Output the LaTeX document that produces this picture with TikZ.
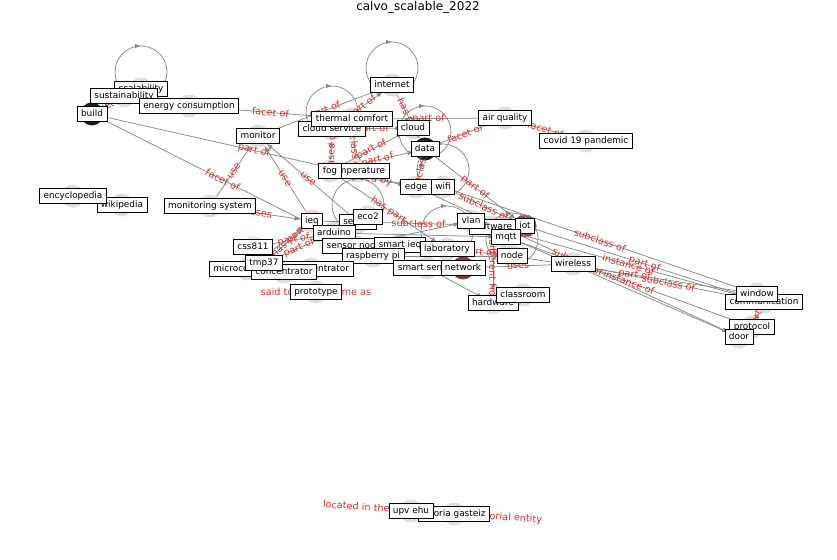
\documentclass[tikz,border=0pt]{standalone}
\usepackage{fontspec}
\setmainfont{DejaVu Sans}
\usetikzlibrary{arrows.meta,decorations.markings}
\definecolor{edgec}{RGB}{138,138,138}
\definecolor{redc}{RGB}{218,45,45}
\definecolor{dotc}{RGB}{222,222,222}
\definecolor{darkdot}{RGB}{28,28,28}
\definecolor{browndot}{RGB}{122,62,56}
\definecolor{brown2}{RGB}{140,78,72}
\definecolor{pinkdot}{RGB}{240,214,220}
\tikzset{
  dot/.style={circle,fill=dotc,draw=none,minimum size=23pt,inner sep=0pt},
  lbl/.style={draw=black,fill=white,line width=0.8pt,inner xsep=4pt,inner ysep=3.4pt,
    font=\fontsize{8.9}{10}\selectfont,text height=6.8pt,text depth=1.9pt},
  conn/.style={draw=edgec,line width=0.75pt,-{Latex[length=6pt,width=4.5pt]}},
  el/.style={text=redc,font=\fontsize{9.7}{11}\selectfont,sloped,inner sep=0pt,midway},
  loopst/.style={draw=edgec,line width=0.75pt,postaction={decorate},
    decoration={markings,mark=at position 0.5 with {\arrow{Latex[length=6pt,width=4.5pt]}}}},
}
\newcommand\myloop[1]{\draw[loopst] (#1) ++(-13,5.5) arc[start angle=120,end angle=420,radius=26];}
\begin{document}
\begin{tikzpicture}[x=1pt,y=-1pt]
\path[fill=white,use as bounding box] (0,0) rectangle (837,559);
\node[font=\fontsize{12}{14}\selectfont] (title) at (418,7) {calvo\_scalable\_2022};

% node circles
\node[dot] (scal) at (141,89) {};
\node[dot] (sust) at (124,96) {};
\node[dot,fill=darkdot] (build) at (92,114) {};
\node[dot] (energy) at (189,106) {};
\node[dot] (monitor) at (258,136) {};
\node[dot] (thermal) at (352,119) {};
\node[dot] (cserv) at (332,129) {};
\node[dot] (internet) at (392,85) {};
\node[dot] (cloud) at (413,128) {};
\node[dot,fill=darkdot] (data) at (425,149) {};
\node[dot] (airq) at (505,118) {};
\node[dot] (covid) at (586,141) {};
\node[dot] (temp) at (357,171) {};
\node[dot] (fog) at (330,171) {};
\node[dot] (edgen) at (416,187) {};
\node[dot] (wifi) at (443,187) {};
\node[dot] (wiki) at (122,205) {};
\node[dot] (ency) at (73,196) {};
\node[dot] (monsys) at (210,206) {};
\node[dot,fill=pinkdot] (ieq) at (312,221) {};
\node[dot] (sensor) at (358,222) {};
\node[dot] (eco) at (368,217) {};
\node[dot] (arduino) at (334,233) {};
\node[dot] (snode) at (354,246) {};
\node[dot] (smieq) at (400,245) {};
\node[dot] (rpi) at (373,256) {};
\node[dot] (lab) at (447,249) {};
\node[dot,fill=pinkdot!60] (css) at (253,247) {};
\node[dot] (micro) at (247,269) {};
\node[dot] (coconc) at (311,269) {};
\node[dot] (conc) at (284,272) {};
\node[dot] (tmp) at (264,263) {};
\node[dot] (proto) at (316,292) {};
\node[dot] (smsens) at (427,268) {};
\node[dot,fill=browndot] (network) at (463,268) {};
\node[dot] (soft) at (493,227) {};
\node[dot] (vlan) at (471,221) {};
\node[dot,fill=brown2] (iot) at (525,226) {};
\node[dot] (mqtt) at (506,237) {};
\node[dot] (nodeN) at (512,256) {};
\node[dot] (wireless) at (573,264) {};
\node[dot,fill=pinkdot!70] (hardware) at (493,303) {};
\node[dot] (classroom) at (523,295) {};
\node[dot] (comm) at (764,302) {};
\node[dot] (window) at (757,294) {};
\node[dot] (protocol) at (752,327) {};
\node[dot] (door) at (739,337) {};
\node[dot] (vitoria) at (454,514) {};
\node[dot] (upv) at (411,511) {};

% self loops
\myloop{scal}
\myloop{internet}
\myloop{cserv}
\myloop{data}
\myloop{wifi}
\myloop{sensor}
\myloop{lab}
\myloop{nodeN}

% connectors
\draw[conn] (sust) -- node[el]{facet of} (build);
\draw[conn] (build) -- node[el]{part of} (edgen);
\draw[conn] (build) -- node[el]{facet of} (snode);
\draw[conn] (energy) -- node[el]{facet of} (thermal);
\draw[conn] (monsys) -- node[el]{use} (monitor);
\draw[conn] (ieq) -- node[el]{use} (monitor);
\draw[conn] (sensor) -- node[el]{use} (monitor);
\draw[conn] (monitor) -- node[el]{part of} (internet);
\draw[conn] (cserv) -- node[el]{part of} (internet);
\draw[conn] (cserv) -- node[el]{part of} (cloud);
\draw[conn] (thermal) -- node[el]{part of} (airq);
\draw[conn] (data) -- node[el]{facet of} (airq);
\draw[conn] (airq) -- node[el]{facet of} (covid);
\draw[conn] (temp) -- node[el]{subclass of} (thermal);
\draw[conn] (fog) -- node[el]{based on} (cserv);
\draw[conn] (fog) -- node[el]{part of} (cloud);
\draw[conn] (fog) -- node[el]{part of} (data);
\draw[conn] (edgen) -- node[el]{subclass of} (data);
\draw[conn] (internet) -- node[el]{has part} (data);
\draw[conn] (data) -- node[el]{part of} (iot);
\draw[conn] (wifi) -- node[el]{subclass of} (iot);
\draw[conn] (wifi) -- node[el]{subclass of} (window);
\draw[conn] (mqtt) -- node[el]{instance of} (protocol);
\draw[conn] (wireless) -- node[el]{subclass of} (comm);
\draw[conn] (nodeN) -- node[el]{part of} (window);
\draw[conn] (soft) -- node[el]{instance of} (comm);
\draw[conn] (iot) -- node[el]{part of} (comm);
\draw[conn] (edgen) -- node[el]{subclass of} (door);
\draw[conn] (vlan) -- (door);
\draw[conn] (network) -- node[el]{uses} (wireless);
\draw[conn] (lab) -- node[el]{part of} (nodeN);
\draw[conn] (soft) -- node[el,pos=0.65]{different from} (hardware);
\draw[conn] (css) -- node[el]{part of} (arduino);
\draw[conn] (tmp) -- node[el]{part of} (arduino);
\draw[conn] (monsys) -- node[el]{uses} (ieq);
\draw[conn] (tmp) -- node[el]{has part} (ieq);
\draw[conn] (micro) -- (ieq);
\draw[conn] (ieq) -- node[el]{subclass of} (iot);
\draw[conn] (fog) -- node[el]{has part} (lab);
\draw[conn] (fog) -- node[el]{used by} (edgen);
\draw[conn] (arduino) -- (mqtt);
\draw[conn] (rpi) -- (nodeN);
\draw[conn] (snode) -- (vlan);
\draw[conn] (smsens) -- (hardware);
\draw[conn] (protocol) -- node[el]{part of} (comm);
\draw[conn] (wiki) -- (ency);
\draw[conn] (upv) -- node[el]{located in the administrative territorial entity} (vitoria);
\node[text=redc,font=\fontsize{9.7}{11}\selectfont,inner sep=0pt] (sameas) at (proto) {said to be the same as};

% labels
\node[lbl] at (scal) {scalability};
\node[lbl] at (sust) {sustainability};
\node[lbl] at (energy) {energy consumption};
\node[lbl] at (build) {build};
\node[lbl] at (monitor) {monitor};
\node[lbl] at (cserv) {cloud service};
\node[lbl] at (thermal) {thermal comfort};
\node[lbl] at (internet) {internet};
\node[lbl] at (cloud) {cloud};
\node[lbl] at (data) {data};
\node[lbl] at (airq) {air quality};
\node[lbl] at (covid) {covid 19 pandemic};
\node[lbl] at (temp) {temperature};
\node[lbl] at (fog) {fog};
\node[lbl] at (edgen) {edge};
\node[lbl] at (wifi) {wifi};
\node[lbl] at (wiki) {wikipedia};
\node[lbl] at (ency) {encyclopedia};
\node[lbl] at (monsys) {monitoring system};
\node[lbl] at (sensor) {sensor};
\node[lbl] at (eco) {eco2};
\node[lbl] at (ieq) {ieq};
\node[lbl] at (arduino) {arduino};
\node[lbl] at (snode) {sensor node};
\node[lbl] at (smieq) {smart ieq};
\node[lbl] at (rpi) {raspberry pi};
\node[lbl] at (micro) {microcontroller};
\node[lbl] at (coconc) {co2 concentrator};
\node[lbl] at (conc) {concentrator};
\node[lbl] at (css) {css811};
\node[lbl] at (tmp) {tmp37};
\node[lbl] at (proto) {prototype};
\node[lbl] at (lab) {laboratory};
\node[lbl] at (smsens) {smart sensor};
\node[lbl] at (network) {network};
\node[lbl] at (soft) {software};
\node[lbl] at (vlan) {vlan};
\node[lbl] at (iot) {iot};
\node[lbl] at (mqtt) {mqtt};
\node[lbl] at (nodeN) {node};
\node[lbl] at (wireless) {wireless};
\node[lbl] at (hardware) {hardware};
\node[lbl] at (classroom) {classroom};
\node[lbl] at (comm) {communication};
\node[lbl] at (window) {window};
\node[lbl] at (protocol) {protocol};
\node[lbl] at (door) {door};
\node[lbl] at (vitoria) {vitoria gasteiz};
\node[lbl] at (upv) {upv ehu};
\end{tikzpicture}
\end{document}
